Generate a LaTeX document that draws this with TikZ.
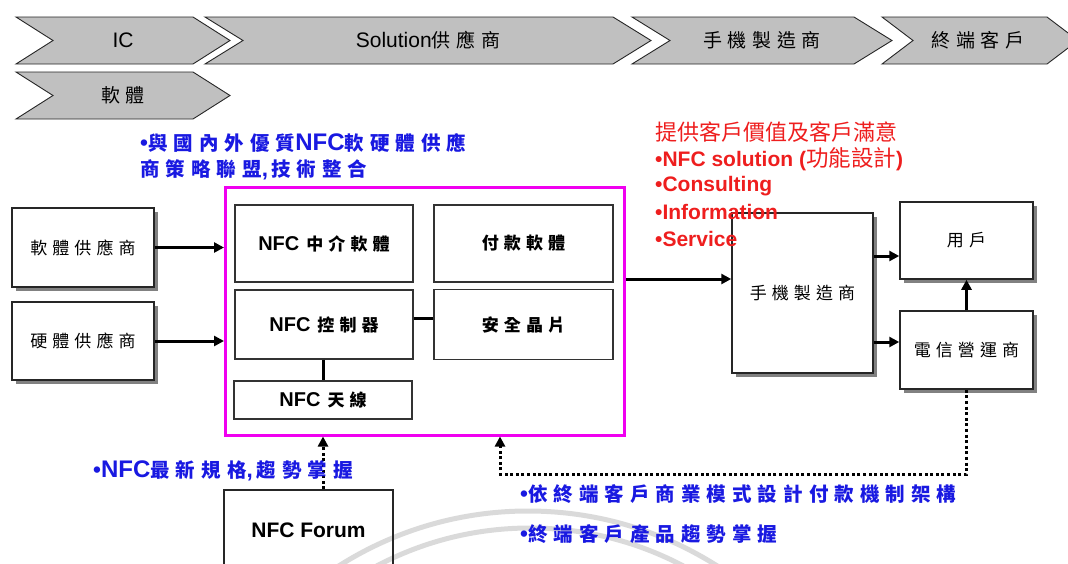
\documentclass[tikz,border=0pt]{standalone}
\usepackage{fontspec}
\setmainfont{Liberation Sans}
\newfontfamily\cj[LetterSpace=30]{Noto Sans CJK TC}
\newfontfamily\cjb[LetterSpace=31]{Noto Sans CJK TC}
\newfontfamily\cjn{Noto Sans CJK TC}
\usetikzlibrary{arrows.meta,shadows}
\definecolor{blueT}{RGB}{25,25,225}
\definecolor{redT}{RGB}{238,30,30}
\definecolor{magT}{RGB}{240,0,240}
\definecolor{chevgray}{RGB}{192,192,192}
\definecolor{arcgray}{RGB}{218,218,218}
\newcommand\mychev[8]{%
  \draw[chev] (#1,#3) -- ({#2-#5},#3) -- (#2,{(#3+#4)/2}) -- ({#2-#5},#4) -- (#1,#4) -- ({#1+#5},{(#3+#4)/2}) -- cycle;
  \node[chevtext] (#6) at ({(#1+#2)/2+#7},{(#3+#4)/2}) {#8};}
\newcommand\ck[1]{{\fontsize{19}{22}\selectfont\cj #1}}
\newcommand\bl[1]{{\fontsize{19.5}{22}\selectfont\cjb #1}}
\newcommand\bk[1]{{\fontsize{17}{20}\selectfont\cj #1}}
\newcommand\bnfc{{\fontsize{24}{24}\selectfont NFC}}
\tikzset{
 chev/.style={fill=chevgray, draw=black!85, line width=0.9pt, line join=miter},
 chevtext/.style={inner sep=0pt, font=\fontsize{21}{24}\selectfont},
 sbox/.style={draw=black!85, line width=1.5pt, fill=white, inner sep=0pt,
   drop shadow={shadow xshift=3.5pt, shadow yshift=-3.5pt, fill=black!55, opacity=0.9},
   font=\fontsize{17}{20}\selectfont\cj},
 ibox/.style={draw=black!80, line width=1.2pt, inner sep=0pt, font=\fontsize{20}{22}\selectfont\bfseries},
 magbox/.style={draw=magT, line width=3pt, inner sep=0pt},
 arr/.style={line width=3pt, -{Triangle[length=10pt,width=10pt]}},
 darr/.style={line width=3pt, dash pattern=on 3pt off 2.6pt, -{Triangle[length=10pt,width=10pt]}},
 link/.style={line width=3pt},
 bluetxt/.style={text=blueT, inner sep=0pt, anchor=west, font=\fontsize{22.5}{24}\selectfont\bfseries},
 redtxt/.style={text=redT, inner sep=0pt, anchor=west, font=\fontsize{21}{24}\selectfont\bfseries},
}
\begin{document}
\begin{tikzpicture}[x=1pt,y=-1pt]
\path[use as bounding box] (0,0) rectangle (1068,563);
\clip (0,0) rectangle (1068,563);
% background arcs
\draw[arcgray, line width=5pt] (528,864) circle (353pt);
\draw[arcgray, line width=5pt] (530,856) circle (328pt);
% chevrons
\mychev{16}{230}{17}{64}{37}{cIC}{0}{IC}
\mychev{205}{651}{17}{64}{38}{cSol}{0}{Solution\ck{供應商}}
\mychev{632}{892}{17}{64}{38}{cPhone}{0}{\ck{手機製造商}}
\mychev{882}{1078}{17}{64}{31}{cEnd}{-2}{\ck{終端客戶}}
\mychev{16}{230}{72}{119}{37}{cSoft}{0}{\ck{軟體}}
% magenta frame and inner boxes
\node[magbox, minimum width=399, minimum height=248] (mag) at (425,311) {};
\node[ibox, minimum width=178, minimum height=77] (mid) at (324,243.5) {NFC\hspace{7pt}\bk{中介軟體}};
\node[ibox, minimum width=179, minimum height=77] (pay) at (523.5,243.5) {\bk{付款軟體}};
\node[ibox, minimum width=178, minimum height=69] (ctl) at (324,324.5) {NFC\hspace{7pt}\bk{控制器}};
\node[ibox, minimum width=179, minimum height=70] (chip) at (523.5,324.5) {\bk{安全晶片}};
\node[ibox, minimum width=178, minimum height=38] (ant) at (323,400) {NFC\hspace{7pt}\bk{天線}};
% outer boxes
\node[sbox, minimum width=142, minimum height=79] (sw) at (83,247.5) {軟體供應商};
\node[sbox, minimum width=142, minimum height=78] (hw) at (83,341) {硬體供應商};
\node[sbox, minimum width=141, minimum height=160] (phone) at (802.5,293) {手機製造商};
\node[sbox, minimum width=133, minimum height=77] (user) at (966.5,240.5) {用戶};
\node[sbox, minimum width=133, minimum height=78] (tel) at (966.5,350) {電信營運商};
\node[ibox, draw=black!85, minimum width=169, minimum height=80, font=\fontsize{21}{24}\selectfont\bfseries] (forum) at (308.5,530) {NFC Forum};
% connectors
\draw[arr] (sw.east) -- (sw.east -| mag.west);
\draw[arr] (hw.east) -- (hw.east -| mag.west);
\draw[arr] (mag.east |- 0,279) -- (phone.west |- 0,279);
\draw[arr] (phone.east |- 0,256) -- (user.west |- 0,256);
\draw[arr] (phone.east |- 0,342) -- (tel.west |- 0,342);
\draw[arr] (tel.north) -- (user.south);
\draw[link] (ant.north |- ctl.south) -- (ant.north);
\draw[link] (ctl.east |- 0,318) -- (chip.west |- 0,318);
\draw[darr] (ant.south |- forum.north) -- (ant.south |- mag.south);
\coordinate (fb) at (500,474);
\draw[darr] (tel.south) |- (fb) -- (fb |- mag.south);
% red texts
\node[redtxt, font=\fontsize{22}{24}\selectfont\cjn] (r1) at (655,132) {提供客戶價值及客戶滿意};
\node[redtxt] (r2) at (655,159) {•NFC solution ({\cjn\mdseries\fontsize{22.5}{24}\selectfont 功能設計})};
\node[redtxt] (r3) at (655,186) {•Consulting};
\node[redtxt] (r4) at (655,212) {•Information};
\node[redtxt] (r5) at (655,239) {•Service};
% blue texts
\node[bluetxt] (b1) at (140,143) {•\bl{與國內外優質}\bnfc\bl{軟硬體供應}};
\node[bluetxt] (b2) at (140,170) {\bl{商策略聯盟},\hspace{3pt}\bl{技術整合}};
\node[bluetxt] (b3) at (93,471) {•\bnfc\bl{最新規格},\hspace{4pt}\bl{趨勢掌握}};
\node[bluetxt] (b4) at (520,494) {•\bl{依終端客戶商業模式設計付款機制架構}};
\node[bluetxt] (b5) at (520,534) {•\bl{終端客戶產品趨勢掌握}};
\end{tikzpicture}
\end{document}
